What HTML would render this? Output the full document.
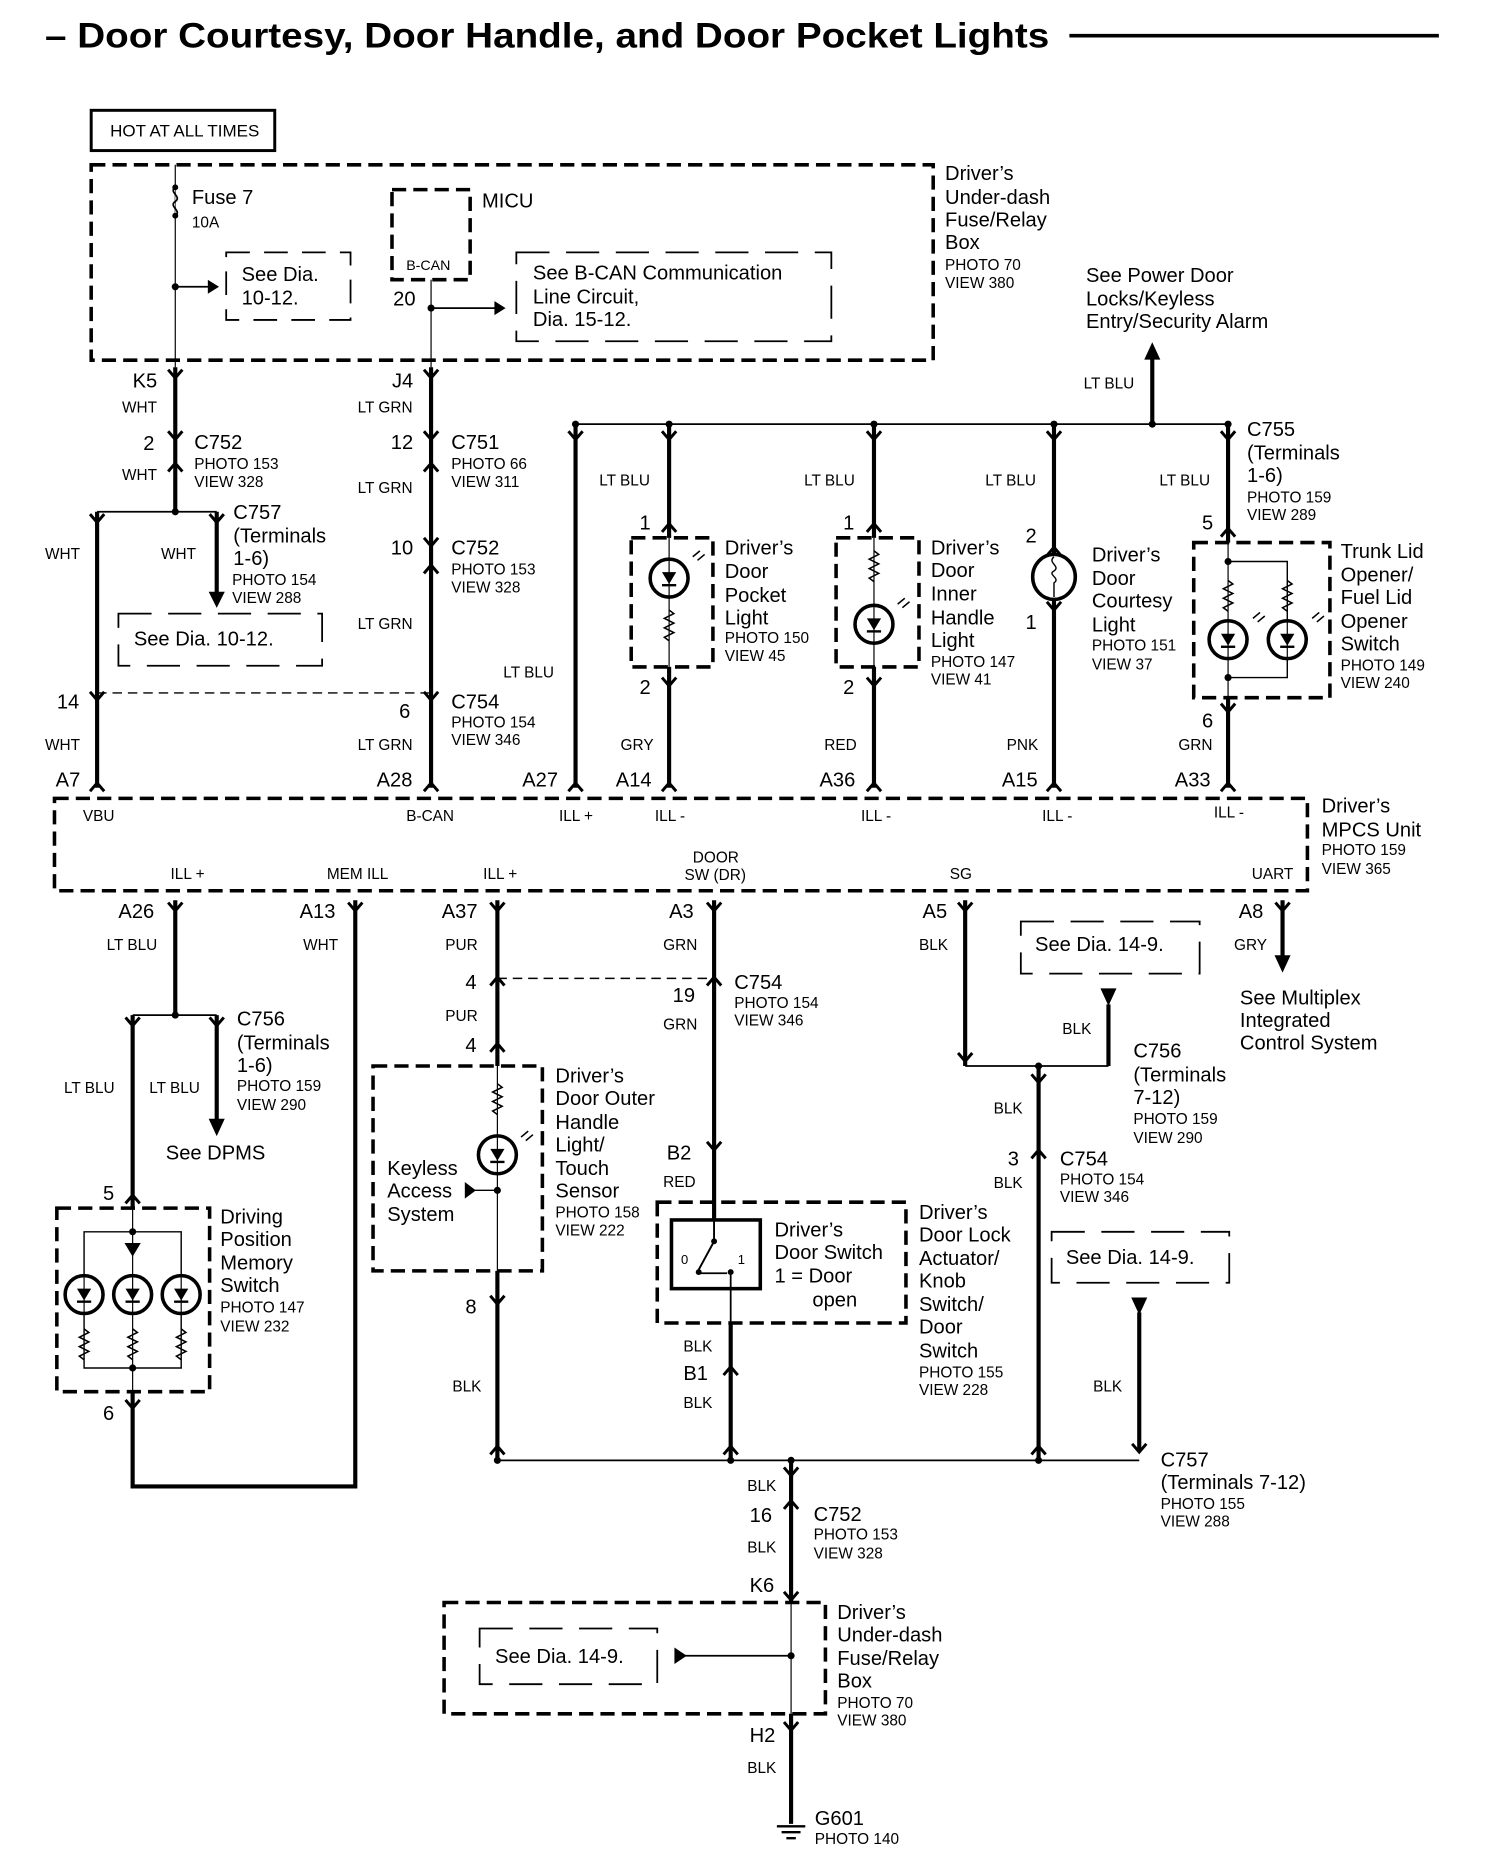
<!DOCTYPE html>
<html><head><meta charset="utf-8"><style>
html,body{margin:0;padding:0;background:#fff}
svg{display:block}
text{font-family:"Liberation Sans",sans-serif;fill:#000}
.L{font-size:17px}.S{font-size:13px}.M{font-size:14px}
</style></head><body>
<svg width="1504" height="1862" viewBox="0 0 1270 1572" xmlns="http://www.w3.org/2000/svg">
<defs>
<path id="v" d="M-6,-6 L0,1 L6,-6" fill="none" stroke="#000" stroke-width="2.5"/>
<path id="u" d="M-6,6 L0,-1 L6,6" fill="none" stroke="#000" stroke-width="2.5"/>
<g id="lamp"><circle r="16" fill="#fff" stroke="#000" stroke-width="3"/><path d="M-6,-5 L6,-5 L0,5 Z" fill="#000"/><line x1="-6" y1="6" x2="6" y2="6" stroke="#000" stroke-width="2"/><line x1="0" y1="-16" x2="0" y2="16" stroke="#000" stroke-width="1"/></g>
<path id="res" d="M0,0 l4,3 l-8,4 l8,4 l-8,4 l8,4 l-8,4 l4,3" fill="none" stroke="#000" stroke-width="1.3"/>
<g id="rays"><path d="M0,0 l6,-5 M4,3 l6,-5" stroke="#000" stroke-width="1.3"/></g>
</defs>
<g stroke="#000" fill="none">
<!-- title -->
<line x1="903" y1="30" x2="1215" y2="30" stroke-width="3"/>
<rect x="77" y="93" width="155" height="34" stroke-width="2.5"/>
<rect x="77" y="139" width="711" height="165" stroke-width="3" stroke-dasharray="12,6"/>
<!-- fuse wire -->
<line x1="148" y1="139" x2="148" y2="310" stroke-width="1"/>
<path d="M148,158 c-6,4 6,8 0,12 c-6,4 6,8 0,12" stroke-width="1.5" fill="#fff"/>
<line x1="148" y1="242" x2="176" y2="242" stroke-width="1.5"/>
<path d="M176,237 L184,242 L176,247 Z" fill="#000"/>
<path d="M191,213 H296 V270 H191 Z" stroke-width="1.5" stroke-dasharray="20,12"/>
<rect x="331" y="160" width="66" height="76" stroke-width="3" stroke-dasharray="12,6"/>
<line x1="364" y1="236" x2="364" y2="310" stroke-width="1"/>
<line x1="364" y1="260" x2="420" y2="260" stroke-width="1.5"/>
<path d="M418,255 L426,260 L418,265 Z" fill="#000"/>
<rect x="436" y="213" width="266" height="75" stroke-width="1.5" stroke-dasharray="28,14"/>
<!-- top thick wires -->
<g stroke-width="3.5">
<line x1="148" y1="310" x2="148" y2="432"/>
<line x1="82" y1="432" x2="82" y2="665"/>
<line x1="183" y1="432" x2="183" y2="500"/>
<line x1="364" y1="310" x2="364" y2="665"/>
<line x1="486" y1="358" x2="486" y2="665"/>
<line x1="565" y1="358" x2="565" y2="454"/><line x1="565" y1="563" x2="565" y2="665"/>
<line x1="738" y1="358" x2="738" y2="454"/><line x1="738" y1="563" x2="738" y2="665"/>
<line x1="890" y1="358" x2="890" y2="469"/><line x1="890" y1="505" x2="890" y2="665"/>
<line x1="1037" y1="358" x2="1037" y2="458"/><line x1="1037" y1="589" x2="1037" y2="665"/>
<line x1="973" y1="358" x2="973" y2="302"/>
</g>
<path d="M183,512 L177,500 L189,500 Z" fill="#000"/>
<path d="M973,290 L967,303 L979,303 Z" fill="#000"/>
<line x1="82" y1="432" x2="183" y2="432" stroke-width="1.5"/>
<line x1="486" y1="358" x2="1037" y2="358" stroke-width="1.5"/>
<path d="M100,518 H272 V562 H100 Z" stroke-width="1.5" stroke-dasharray="28,14"/>
<line x1="82" y1="585" x2="364" y2="585" stroke-width="1.2" stroke-dasharray="8,5"/>
<!-- devices top -->
<rect x="533" y="454" width="69" height="109" stroke-width="3" stroke-dasharray="12,6"/>
<line x1="565" y1="454" x2="565" y2="563" stroke-width="1"/>
<rect x="706" y="454" width="70" height="109" stroke-width="3" stroke-dasharray="12,6"/>
<line x1="738" y1="454" x2="738" y2="563" stroke-width="1"/>
<ellipse cx="890" cy="487" rx="18" ry="19" stroke-width="3" fill="#fff"/>
<path d="M890,470 c-6,5 6,8 0,12 c-6,3 6,6 0,10 v12" stroke-width="1.2"/>
<rect x="1008" y="458" width="115" height="131" stroke-width="3" stroke-dasharray="12,6"/>
<line x1="1037" y1="458" x2="1037" y2="589" stroke-width="1"/>
<path d="M1037,474 H1087 V572 H1037" stroke-width="1.2"/>
<!-- MPCS -->
<rect x="46" y="674" width="1058" height="78" stroke-width="3" stroke-dasharray="12,6"/>
<!-- bottom thick -->
<g stroke-width="3.5">
<line x1="148" y1="760" x2="148" y2="857"/>
<line x1="112" y1="857" x2="112" y2="1020"/>
<line x1="183" y1="857" x2="183" y2="945"/>
<path d="M112,1175 V1255 H300 V760"/>
<line x1="420" y1="760" x2="420" y2="900"/><line x1="420" y1="1073" x2="420" y2="1233"/>
<line x1="603" y1="760" x2="603" y2="1030"/>
<line x1="617" y1="1117" x2="617" y2="1233"/>
<line x1="815" y1="760" x2="815" y2="900"/>
<line x1="936" y1="848" x2="936" y2="900"/>
<line x1="877" y1="900" x2="877" y2="1233"/>
<line x1="962" y1="1108" x2="962" y2="1225"/>
<line x1="1083" y1="760" x2="1083" y2="808"/>
<line x1="668" y1="1233" x2="668" y2="1353"/><line x1="668" y1="1447" x2="668" y2="1540"/>
</g>
<path d="M183,958 L177,945 L189,945 Z" fill="#000"/>
<path d="M1083,820 L1077,807 L1089,807 Z" fill="#000"/>
<path d="M930,835 L942,835 L936,848 Z" fill="#000"/>
<path d="M956,1096 L968,1096 L962,1109 Z" fill="#000"/>
<line x1="112" y1="857" x2="183" y2="857" stroke-width="1.5"/>
<line x1="815" y1="900" x2="936" y2="900" stroke-width="1.5"/>
<line x1="420" y1="1233" x2="962" y2="1233" stroke-width="1.5"/>
<line x1="420" y1="826" x2="603" y2="826" stroke-width="1.2" stroke-dasharray="8,5"/>
<rect x="48" y="1020" width="129" height="155" stroke-width="3" stroke-dasharray="12,6"/>
<path d="M71,1040 H153 V1155 H71 Z" stroke-width="1.2"/>
<line x1="112" y1="1020" x2="112" y2="1175" stroke-width="1"/>
<path d="M106,1050 L118,1050 L112,1060 Z" fill="#000"/>
<rect x="315" y="900" width="143" height="173" stroke-width="3" stroke-dasharray="12,6"/>
<line x1="420" y1="900" x2="420" y2="1073" stroke-width="1"/>
<line x1="400" y1="1005" x2="420" y2="1005" stroke-width="1.2"/>
<path d="M393,999 L401,1005 L393,1011 Z" fill="#000"/>
<rect x="555" y="1015" width="210" height="102" stroke-width="3" stroke-dasharray="12,6"/>
<rect x="567" y="1030" width="75" height="58" stroke-width="3"/>
<path d="M603,1030 V1048 L590,1072 M591,1075 H614 M617,1072 V1117" stroke-width="1.5"/>
<path d="M603,1030 V1048 L590,1072" stroke-width="1.5"/>
<path d="M862,778 H1013 V822 H862 Z" stroke-width="1.5" stroke-dasharray="28,14"/>
<path d="M888,1040 H1038 V1083 H888 Z" stroke-width="1.5" stroke-dasharray="28,14"/>
<rect x="375" y="1353" width="322" height="94" stroke-width="3" stroke-dasharray="12,6"/>
<path d="M405,1375 H555 V1422 H405 Z" stroke-width="1.5" stroke-dasharray="28,14"/>
<line x1="578" y1="1398" x2="668" y2="1398" stroke-width="1.5"/>
<path d="M570,1392 L579,1398 L570,1404 Z" fill="#000"/>
<line x1="668" y1="1353" x2="668" y2="1447" stroke-width="1"/>
<path d="M656,1542 H680 M660,1547 H676 M664,1552 H672" stroke-width="2"/>
</g>
<!-- dots -->
<g fill="#000">
<circle cx="148" cy="158" r="2.5"/><circle cx="148" cy="182" r="2.5"/><circle cx="148" cy="242" r="3"/><circle cx="364" cy="260" r="3"/>
<circle cx="148" cy="432" r="3"/><circle cx="486" cy="358" r="3"/><circle cx="565" cy="358" r="3"/><circle cx="738" cy="358" r="3"/><circle cx="890" cy="358" r="3"/><circle cx="973" cy="358" r="3"/><circle cx="1037" cy="358" r="3"/>
<circle cx="1037" cy="474" r="3"/><circle cx="1037" cy="572" r="3"/>
<circle cx="148" cy="857" r="3"/><circle cx="112" cy="1040" r="3"/><circle cx="112" cy="1155" r="3"/><circle cx="420" cy="1005" r="3"/>
<circle cx="877" cy="900" r="3"/><circle cx="420" cy="1233" r="3"/><circle cx="617" cy="1233" r="3"/><circle cx="668" cy="1233" r="3"/><circle cx="877" cy="1233" r="3"/><circle cx="668" cy="1398" r="3"/>
<circle cx="603" cy="1048" r="2.5"/><circle cx="590" cy="1074" r="2.5"/><circle cx="617" cy="1074" r="2.5"/>
</g>
<!-- lamps / resistors -->
<use href="#lamp" x="565" y="488"/><use href="#res" x="565" y="515"/><use href="#rays" x="585" y="470"/>
<use href="#res" x="738" y="465"/><use href="#lamp" x="738" y="527"/><use href="#rays" x="758" y="510"/>
<use href="#res" x="1037" y="490"/><use href="#lamp" x="1037" y="540"/><use href="#res" x="1087" y="490"/><use href="#lamp" x="1087" y="540"/><use href="#rays" x="1058" y="522"/><use href="#rays" x="1108" y="522"/>
<use href="#lamp" x="71" y="1093"/><use href="#lamp" x="112" y="1093"/><use href="#lamp" x="153" y="1093"/>
<use href="#res" x="71" y="1122"/><use href="#res" x="112" y="1122"/><use href="#res" x="153" y="1122"/>
<use href="#res" x="420" y="915"/><use href="#lamp" x="420" y="975"/><use href="#rays" x="440" y="960"/>
<!-- connectors -->
<use href="#v" x="148" y="318"/><use href="#v" x="364" y="318"/>
<use href="#v" x="148" y="370"/><use href="#u" x="148" y="392"/>
<use href="#v" x="364" y="370"/><use href="#u" x="364" y="392"/>
<use href="#v" x="364" y="460"/><use href="#u" x="364" y="478"/>
<use href="#v" x="82" y="590"/><use href="#v" x="364" y="590"/><use href="#v" x="183" y="440"/><use href="#v" x="82" y="440"/>
<use href="#v" x="486" y="370"/><use href="#v" x="565" y="370"/><use href="#v" x="738" y="370"/><use href="#v" x="890" y="370"/><use href="#v" x="1037" y="370"/>
<use href="#u" x="565" y="443"/><use href="#v" x="565" y="578"/>
<use href="#u" x="738" y="443"/><use href="#v" x="738" y="578"/>
<use href="#u" x="890" y="463"/><use href="#v" x="890" y="514"/>
<use href="#u" x="1037" y="447"/><use href="#v" x="1037" y="600"/>
<use href="#u" x="82" y="662"/><use href="#u" x="364" y="662"/><use href="#u" x="486" y="662"/><use href="#u" x="565" y="662"/><use href="#u" x="738" y="662"/><use href="#u" x="890" y="662"/><use href="#u" x="1037" y="662"/>
<use href="#v" x="148" y="768"/><use href="#v" x="300" y="768"/><use href="#v" x="420" y="768"/><use href="#v" x="603" y="768"/><use href="#v" x="815" y="768"/><use href="#v" x="1083" y="768"/>
<use href="#v" x="112" y="865"/><use href="#v" x="183" y="865"/><use href="#u" x="112" y="1010"/><use href="#v" x="112" y="1188"/>
<use href="#u" x="420" y="826"/><use href="#u" x="420" y="882"/><use href="#v" x="420" y="1100"/><use href="#u" x="420" y="1222"/>
<use href="#u" x="603" y="826"/><use href="#v" x="603" y="970"/><use href="#u" x="617" y="1155"/><use href="#u" x="617" y="1222"/>
<use href="#v" x="815" y="895"/><use href="#v" x="877" y="913"/><use href="#u" x="877" y="972"/><use href="#u" x="877" y="1222"/><use href="#v" x="962" y="1225"/><use href="#v" x="668" y="1245"/><use href="#u" x="668" y="1268"/><use href="#v" x="668" y="1350"/><use href="#v" x="668" y="1460"/>
<!-- text -->
<text x="38" y="40" font-size="30" font-weight="bold" textLength="848" lengthAdjust="spacingAndGlyphs">– Door Courtesy, Door Handle, and Door Pocket Lights</text>
<text x="93" y="115" class="M" textLength="126" lengthAdjust="spacingAndGlyphs">HOT AT ALL TIMES</text>
<text x="162" y="172" class="L">Fuse 7</text><text x="162" y="192" class="S">10A</text>
<text x="204" y="237" class="L">See Dia.</text><text x="204" y="257" class="L">10-12.</text>
<text x="407" y="175" class="L">MICU</text><text x="343" y="228" font-size="12">B-CAN</text><text x="332" y="258" class="L">20</text>
<text x="450" y="236" class="L">See B-CAN Communication</text><text x="450" y="256" class="L">Line Circuit,</text><text x="450" y="275" class="L">Dia. 15-12.</text>
<text x="798" y="152" class="L">Driver’s</text><text x="798" y="172" class="L">Under-dash</text><text x="798" y="191" class="L">Fuse/Relay</text><text x="798" y="210" class="L">Box</text><text x="798" y="228" class="S">PHOTO 70</text><text x="798" y="243" class="S">VIEW 380</text>
<text x="917" y="238" class="L">See Power Door</text><text x="917" y="258" class="L">Locks/Keyless</text><text x="917" y="277" class="L">Entry/Security Alarm</text>
<text x="915" y="328" class="S">LT BLU</text>
<text x="112" y="327" class="L">K5</text><text x="331" y="327" class="L">J4</text>
<text x="103" y="348" class="S">WHT</text><text x="302" y="348" class="S">LT GRN</text>
<text x="121" y="380" class="L">2</text><text x="164" y="379" class="L">C752</text><text x="164" y="396" class="S">PHOTO 153</text><text x="164" y="411" class="S">VIEW 328</text><text x="103" y="405" class="S">WHT</text>
<text x="330" y="379" class="L">12</text><text x="381" y="379" class="L">C751</text><text x="381" y="396" class="S">PHOTO 66</text><text x="381" y="411" class="S">VIEW 311</text><text x="302" y="416" class="S">LT GRN</text>
<text x="197" y="438" class="L">C757</text><text x="197" y="458" class="L">(Terminals</text><text x="197" y="477" class="L">1-6)</text><text x="196" y="494" class="S">PHOTO 154</text><text x="196" y="509" class="S">VIEW 288</text>
<text x="38" y="472" class="S">WHT</text><text x="136" y="472" class="S">WHT</text>
<text x="113" y="545" class="L">See Dia. 10-12.</text>
<text x="330" y="468" class="L">10</text><text x="381" y="468" class="L">C752</text><text x="381" y="485" class="S">PHOTO 153</text><text x="381" y="500" class="S">VIEW 328</text><text x="302" y="531" class="S">LT GRN</text>
<text x="48" y="598" class="L">14</text><text x="38" y="633" class="S">WHT</text>
<text x="337" y="606" class="L">6</text><text x="381" y="598" class="L">C754</text><text x="381" y="614" class="S">PHOTO 154</text><text x="381" y="629" class="S">VIEW 346</text><text x="302" y="633" class="S">LT GRN</text>
<text x="425" y="572" class="S">LT BLU</text>
<text x="506" y="410" class="S">LT BLU</text><text x="679" y="410" class="S">LT BLU</text><text x="832" y="410" class="S">LT BLU</text><text x="979" y="410" class="S">LT BLU</text>
<text x="1053" y="368" class="L">C755</text><text x="1053" y="388" class="L">(Terminals</text><text x="1053" y="407" class="L">1-6)</text><text x="1053" y="424" class="S">PHOTO 159</text><text x="1053" y="439" class="S">VIEW 289</text>
<text x="540" y="447" class="L">1</text><text x="540" y="586" class="L">2</text>
<text x="612" y="468" class="L">Driver’s</text><text x="612" y="488" class="L">Door</text><text x="612" y="508" class="L">Pocket</text><text x="612" y="527" class="L">Light</text><text x="612" y="543" class="S">PHOTO 150</text><text x="612" y="558" class="S">VIEW 45</text>
<text x="712" y="447" class="L">1</text><text x="712" y="586" class="L">2</text>
<text x="786" y="468" class="L">Driver’s</text><text x="786" y="487" class="L">Door</text><text x="786" y="507" class="L">Inner</text><text x="786" y="527" class="L">Handle</text><text x="786" y="546" class="L">Light</text><text x="786" y="563" class="S">PHOTO 147</text><text x="786" y="578" class="S">VIEW 41</text>
<text x="866" y="458" class="L">2</text><text x="866" y="531" class="L">1</text>
<text x="922" y="474" class="L">Driver’s</text><text x="922" y="494" class="L">Door</text><text x="922" y="513" class="L">Courtesy</text><text x="922" y="533" class="L">Light</text><text x="922" y="549" class="S">PHOTO 151</text><text x="922" y="565" class="S">VIEW 37</text>
<text x="1015" y="447" class="L">5</text><text x="1015" y="614" class="L">6</text>
<text x="1132" y="471" class="L">Trunk Lid</text><text x="1132" y="491" class="L">Opener/</text><text x="1132" y="510" class="L">Fuel Lid</text><text x="1132" y="530" class="L">Opener</text><text x="1132" y="549" class="L">Switch</text><text x="1132" y="566" class="S">PHOTO 149</text><text x="1132" y="581" class="S">VIEW 240</text>
<text x="524" y="633" class="S">GRY</text><text x="696" y="633" class="S">RED</text><text x="850" y="633" class="S">PNK</text><text x="995" y="633" class="S">GRN</text>
<text x="47" y="664" class="L">A7</text><text x="318" y="664" class="L">A28</text><text x="441" y="664" class="L">A27</text><text x="520" y="664" class="L">A14</text><text x="692" y="664" class="L">A36</text><text x="846" y="664" class="L">A15</text><text x="992" y="664" class="L">A33</text>
<text x="70" y="693" class="S">VBU</text><text x="343" y="693" class="S">B-CAN</text><text x="472" y="693" class="S">ILL +</text><text x="553" y="693" class="S">ILL -</text><text x="727" y="693" class="S">ILL -</text><text x="880" y="693" class="S">ILL -</text><text x="1025" y="690" class="S">ILL -</text>
<text x="144" y="742" class="S">ILL +</text><text x="276" y="742" class="S">MEM ILL</text><text x="408" y="742" class="S">ILL +</text><text x="585" y="728" class="S">DOOR</text><text x="578" y="743" class="S">SW (DR)</text><text x="802" y="742" class="S">SG</text><text x="1057" y="742" class="S">UART</text>
<text x="1116" y="686" class="L">Driver’s</text><text x="1116" y="706" class="L">MPCS Unit</text><text x="1116" y="722" class="S">PHOTO 159</text><text x="1116" y="738" class="S">VIEW 365</text>
<text x="100" y="775" class="L">A26</text><text x="253" y="775" class="L">A13</text><text x="373" y="775" class="L">A37</text><text x="565" y="775" class="L">A3</text><text x="779" y="775" class="L">A5</text><text x="1046" y="775" class="L">A8</text>
<text x="90" y="802" class="S">LT BLU</text><text x="256" y="802" class="S">WHT</text><text x="376" y="802" class="S">PUR</text><text x="560" y="802" class="S">GRN</text><text x="776" y="802" class="S">BLK</text><text x="1042" y="802" class="S">GRY</text>
<text x="874" y="803" class="L">See Dia. 14-9.</text>
<text x="1047" y="848" class="L">See Multiplex</text><text x="1047" y="867" class="L">Integrated</text><text x="1047" y="886" class="L">Control System</text>
<text x="200" y="866" class="L">C756</text><text x="200" y="886" class="L">(Terminals</text><text x="200" y="905" class="L">1-6)</text><text x="200" y="921" class="S">PHOTO 159</text><text x="200" y="937" class="S">VIEW 290</text>
<text x="54" y="923" class="S">LT BLU</text><text x="126" y="923" class="S">LT BLU</text><text x="140" y="979" class="L">See DPMS</text>
<text x="87" y="1013" class="L">5</text><text x="87" y="1199" class="L">6</text>
<text x="186" y="1033" class="L">Driving</text><text x="186" y="1052" class="L">Position</text><text x="186" y="1072" class="L">Memory</text><text x="186" y="1091" class="L">Switch</text><text x="186" y="1108" class="S">PHOTO 147</text><text x="186" y="1124" class="S">VIEW 232</text>
<text x="393" y="835" class="L">4</text><text x="376" y="862" class="S">PUR</text><text x="393" y="888" class="L">4</text><text x="393" y="1109" class="L">8</text><text x="382" y="1175" class="S">BLK</text>
<text x="327" y="992" class="L">Keyless</text><text x="327" y="1011" class="L">Access</text><text x="327" y="1031" class="L">System</text>
<text x="469" y="914" class="L">Driver’s</text><text x="469" y="933" class="L">Door Outer</text><text x="469" y="953" class="L">Handle</text><text x="469" y="972" class="L">Light/</text><text x="469" y="992" class="L">Touch</text><text x="469" y="1011" class="L">Sensor</text><text x="469" y="1028" class="S">PHOTO 158</text><text x="469" y="1043" class="S">VIEW 222</text>
<text x="568" y="846" class="L">19</text><text x="560" y="869" class="S">GRN</text><text x="620" y="835" class="L">C754</text><text x="620" y="851" class="S">PHOTO 154</text><text x="620" y="866" class="S">VIEW 346</text>
<text x="563" y="979" class="L">B2</text><text x="560" y="1002" class="S">RED</text>
<text x="575" y="1067" font-size="11">0</text><text x="623" y="1067" font-size="11">1</text>
<text x="654" y="1044" class="L">Driver’s</text><text x="654" y="1063" class="L">Door Switch</text><text x="654" y="1083" class="L">1 = Door</text><text x="686" y="1103" class="L">open</text>
<text x="776" y="1029" class="L">Driver’s</text><text x="776" y="1048" class="L">Door Lock</text><text x="776" y="1068" class="L">Actuator/</text><text x="776" y="1087" class="L">Knob</text><text x="776" y="1107" class="L">Switch/</text><text x="776" y="1126" class="L">Door</text><text x="776" y="1146" class="L">Switch</text><text x="776" y="1163" class="S">PHOTO 155</text><text x="776" y="1178" class="S">VIEW 228</text>
<text x="577" y="1141" class="S">BLK</text><text x="577" y="1165" class="L">B1</text><text x="577" y="1189" class="S">BLK</text>
<text x="897" y="873" class="S">BLK</text>
<text x="957" y="893" class="L">C756</text><text x="957" y="913" class="L">(Terminals</text><text x="957" y="932" class="L">7-12)</text><text x="957" y="949" class="S">PHOTO 159</text><text x="957" y="965" class="S">VIEW 290</text>
<text x="839" y="940" class="S">BLK</text><text x="851" y="984" class="L">3</text><text x="895" y="984" class="L">C754</text><text x="895" y="1000" class="S">PHOTO 154</text><text x="895" y="1015" class="S">VIEW 346</text><text x="839" y="1003" class="S">BLK</text>
<text x="900" y="1067" class="L">See Dia. 14-9.</text><text x="923" y="1175" class="S">BLK</text>
<text x="980" y="1238" class="L">C757</text><text x="980" y="1257" class="L">(Terminals 7-12)</text><text x="980" y="1274" class="S">PHOTO 155</text><text x="980" y="1289" class="S">VIEW 288</text>
<text x="631" y="1259" class="S">BLK</text><text x="633" y="1285" class="L">16</text><text x="687" y="1284" class="L">C752</text><text x="687" y="1300" class="S">PHOTO 153</text><text x="687" y="1316" class="S">VIEW 328</text><text x="631" y="1311" class="S">BLK</text><text x="633" y="1344" class="L">K6</text>
<text x="418" y="1404" class="L">See Dia. 14-9.</text>
<text x="707" y="1367" class="L">Driver’s</text><text x="707" y="1386" class="L">Under-dash</text><text x="707" y="1406" class="L">Fuse/Relay</text><text x="707" y="1425" class="L">Box</text><text x="707" y="1442" class="S">PHOTO 70</text><text x="707" y="1457" class="S">VIEW 380</text>
<text x="633" y="1471" class="L">H2</text><text x="631" y="1497" class="S">BLK</text>
<text x="688" y="1541" class="L">G601</text><text x="688" y="1557" class="S">PHOTO 140</text>
</svg>
</body></html>
